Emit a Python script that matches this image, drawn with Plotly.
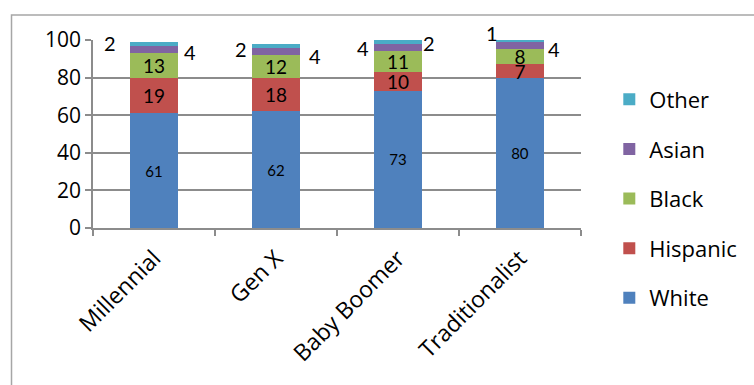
import plotly.graph_objects as go

categories = ["Millennial", "Gen X", "Baby Boomer", "Traditionalist"]
white = [61, 62, 73, 80]
hispanic = [19, 18, 10, 7]
black = [13, 12, 11, 8]
asian = [4, 4, 4, 4]
other = [2, 2, 2, 1]

series = [
    ("White", white, "#4F81BD"),
    ("Hispanic", hispanic, "#C0504D"),
    ("Black", black, "#9BBB59"),
    ("Asian", asian, "#8064A2"),
    ("Other", other, "#4BACC6"),
]

fig = go.Figure()
for i, (name, vals, col) in enumerate(series):
    show_text = name in ("White", "Hispanic", "Black")
    fig.add_trace(go.Bar(
        x=categories, y=vals, name=name, legendgroup=name,
        legendrank=100 - i,
        marker=dict(color=col, line=dict(width=0)),
        text=vals if show_text else None,
        textposition="inside" if show_text else "none",
        insidetextanchor="middle",
        textangle=0,
        constraintext="none",
        textfont=dict(family="Lato, Carlito, sans-serif",
                      size=15 if name == "White" else 19, color="black"),
        hoverinfo="skip",
    ))

# outside labels for Asian and Other (Excel-style manually placed labels)
asian_shift = [(36, -3), (39, -5), (-35, 0), (34, -3)]
other_shift = [(-44, 1), (-35, -3), (31, -1), (-28, 8)]
for j, cat in enumerate(categories):
    base = white[j] + hispanic[j] + black[j]
    ya = base + asian[j] / 2
    yo = base + asian[j] + other[j] / 2
    fig.add_annotation(x=cat, y=ya, text=str(asian[j]), showarrow=False,
                       xshift=asian_shift[j][0], yshift=asian_shift[j][1],
                       font=dict(family="Lato, sans-serif", size=20, color="black"))
    fig.add_annotation(x=cat, y=yo, text=str(other[j]), showarrow=False,
                       xshift=other_shift[j][0], yshift=other_shift[j][1],
                       font=dict(family="Lato, sans-serif", size=20, color="black"))

# outer chart border (top and left edges visible)
fig.add_shape(type="path", xref="paper", yref="paper",
              path="M -0.167,-1.2 L -0.167,1.133 L 1.5,1.133",
              line=dict(color="#A6A6A6", width=1.5))

grid = "#8C8C8C"
fig.update_layout(
    barmode="stack",
    bargap=0.6,
    width=754, height=385,
    margin=dict(l=93, r=170, t=40, b=157),
    paper_bgcolor="white", plot_bgcolor="white",
    font=dict(family="Open Sans, sans-serif", color="black"),
    showlegend=True,
    legend=dict(x=1.058, y=0.795, xanchor="left", yanchor="top",
                traceorder="grouped", tracegroupgap=18,
                maxheight=400,
                font=dict(size=22, family="Open Sans, sans-serif"),
                itemwidth=30),
    xaxis=dict(showline=True, linecolor=grid, linewidth=1.5,
               ticks="outside", ticklen=6, tickcolor=grid, tickwidth=1.5,
               tickson="boundaries", tickangle=-45,
               ticklabelstandoff=6,
               tickfont=dict(size=23, family="Open Sans, sans-serif"),
               showgrid=False),
    yaxis=dict(range=[0, 100], dtick=20, showline=True, linecolor=grid, linewidth=1.5,
               ticks="outside", ticklen=6, tickcolor=grid, tickwidth=1.5,
               showgrid=True, gridcolor=grid, gridwidth=1.5,
               zeroline=False,
               tickfont=dict(size=21, family="Open Sans, sans-serif")),
)

fig.write_html("out.html")
